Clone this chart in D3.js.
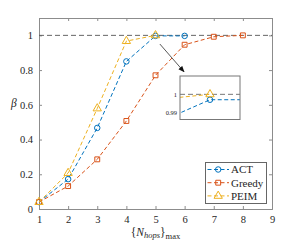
<!DOCTYPE html>
<html><head><meta charset="utf-8">
<script src="https://cdn.jsdelivr.net/npm/d3@7"></script>
<style>body{margin:0;background:#fff}svg{display:block}</style>
</head><body><svg id="c" width="300" height="240"></svg>
<script>
const hops = [1,2,3,4,5,6,7,8,9];
const actX = [1,2,3,4,5,6];
const actY = [0.04,0.172,0.467,0.85,0.997,0.997];
const greedyX = [1,2,3,4,5,6,7,8];
const greedyY = [0.04,0.132,0.286,0.507,0.77,0.946,0.992,1.0];
const peimX = [1,2,3,4,5];
const peimY = [0.04,0.207,0.579,0.967,1.0];
const yTicks = [0,0.2,0.4,0.6,0.8,1];
const yTickLabels = ["0","0.2","0.4","0.6","0.8","1"];
const insetTicks = [0.99,1];
const insetTickLabels = ["0.99","1"];
const seriesNames = ["ACT","Greedy","PEIM"];
const colors = ["#0072BD","#D95319","#EDB120"];
const shapes = [d3.symbolCircle,d3.symbolSquare,d3.symbolTriangle];

const FONT = "'Liberation Serif', 'Times New Roman', 'DejaVu Serif', serif";
const svg = d3.select("#c");
const x = d3.scaleLinear().domain([1,9]).range([39,272]);
const y = d3.scaleLinear().domain([0,1.1]).range([209,18]);
const axisCol = "#8c8c8c";
const series = [
  {name:seriesNames[0], xs:actX, ys:actY},
  {name:seriesNames[1], xs:greedyX, ys:greedyY},
  {name:seriesNames[2], xs:peimX, ys:peimY}
];

const fs = "10.5px";
svg.append("g").attr("transform","translate(0,209)")
  .call(d3.axisBottom(x).tickValues(hops).tickSize(-3).tickPadding(7).tickFormat(d3.format("d")))
  .call(g=>{g.select(".domain").attr("stroke",axisCol);g.selectAll("line").attr("stroke",axisCol);g.selectAll("text").style("font-size",fs);});
svg.append("g").attr("transform","translate(0,18)")
  .call(d3.axisTop(x).tickValues(hops).tickSize(-3).tickFormat(""))
  .call(g=>{g.select(".domain").attr("stroke",axisCol);g.selectAll("line").attr("stroke",axisCol);});
svg.append("g").attr("transform","translate(39,0)")
  .call(d3.axisLeft(y).tickValues(yTicks).tickSize(-3).tickPadding(6).tickFormat((d,i)=>yTickLabels[i]))
  .call(g=>{g.select(".domain").attr("stroke",axisCol);g.selectAll("line").attr("stroke",axisCol);g.selectAll("text").style("font-size",fs);});
svg.append("g").attr("transform","translate(272,0)")
  .call(d3.axisRight(y).tickValues(yTicks).tickSize(-3).tickFormat(""))
  .call(g=>{g.select(".domain").attr("stroke",axisCol);g.selectAll("line").attr("stroke",axisCol);});
svg.selectAll(".domain").attr("stroke-width",1);

svg.append("line").attr("x1",x(1)).attr("x2",x(9)).attr("y1",y(1)).attr("y2",y(1))
  .attr("stroke","#555").attr("stroke-width",0.9).attr("stroke-dasharray","5,3");

function drawSeries(g, xs, ys, si, sx, sy, markers){
  const pts = xs.map((v,i)=>[v,ys[i]]);
  g.append("path").datum(pts)
    .attr("d", d3.line().x(d=>sx(d[0])).y(d=>sy(d[1])))
    .attr("fill","none").attr("stroke",colors[si]).attr("stroke-width",1).attr("stroke-dasharray","4,2.5");
  if(markers){
    g.selectAll(null).data(pts).enter().append("path")
      .attr("transform",d=>`translate(${sx(d[0])},${sy(d[1])})`)
      .attr("d", d3.symbol().type(shapes[si]).size(si===2?30:24))
      .attr("fill","none").attr("stroke",colors[si]).attr("stroke-width",1);
  }
}
const mainG = svg.append("g");
series.forEach((s,i)=>drawSeries(mainG,s.xs,s.ys,i,x,y,true));

const defs = svg.append("defs");
defs.append("marker").attr("id","ah").attr("viewBox","0 0 10 10").attr("refX",9).attr("refY",5)
  .attr("markerWidth",7).attr("markerHeight",7).attr("orient","auto")
  .append("path").attr("d","M0,1 L10,5 L0,9 Z").attr("fill","#111");
svg.append("line").attr("x1",x(5.15)).attr("y1",y(0.95)).attr("x2",x(5.98)).attr("y2",y(0.79))
  .attr("stroke","#444").attr("stroke-width",0.9).attr("marker-end","url(#ah)");

const ix = d3.scaleLinear().domain([4.95,5.05]).range([180,240]);
const iy = d3.scaleLinear().domain([0.986,1.0102]).range([119.5,76]);
defs.append("clipPath").attr("id","ic").append("rect").attr("x",180).attr("y",76).attr("width",60).attr("height",43.5);
svg.append("rect").attr("x",180).attr("y",76).attr("width",60).attr("height",43.5).attr("fill","#fff");
const ig = svg.append("g").attr("clip-path","url(#ic)");
ig.append("line").attr("x1",180).attr("x2",240).attr("y1",iy(1)).attr("y2",iy(1))
  .attr("stroke","#777").attr("stroke-width",1).attr("stroke-dasharray","5,3");
[0,2].forEach(i=>drawSeries(ig,series[i].xs,series[i].ys,i,ix,iy,true));
svg.append("rect").attr("x",180).attr("y",76).attr("width",60).attr("height",43.5)
  .attr("fill","none").attr("stroke","#777").attr("stroke-width",1);
svg.append("g").selectAll("text").data(insetTicks).enter().append("text")
  .attr("x",177).attr("y",d=>iy(d)).attr("dy","0.35em").attr("text-anchor","end")
  .style("font-size","6.5px").text((d,i)=>insetTickLabels[i]);

const lg = svg.append("g");
lg.append("rect").attr("x",205.5).attr("y",162.5).attr("width",61).attr("height",41)
  .attr("fill","#fff").attr("stroke","#666").attr("stroke-width",1);
seriesNames.forEach((n,i)=>{
  const yy = 169.5 + i*13.2;
  lg.append("line").attr("x1",207.5).attr("x2",229).attr("y1",yy).attr("y2",yy)
    .attr("stroke",colors[i]).attr("stroke-width",1).attr("stroke-dasharray","4,2.5");
  lg.append("path").attr("transform",`translate(218.2,${yy})`)
    .attr("d",d3.symbol().type(shapes[i]).size(i===2?30:24))
    .attr("fill","none").attr("stroke",colors[i]).attr("stroke-width",1);
  lg.append("text").attr("x",231).attr("y",yy).attr("dy","0.35em").style("font-size","11px").text(n);
});

svg.append("text").attr("x",11).attr("y",107).style("font-size","11.5px").style("font-style","italic").text("β");
const xl = svg.append("text").attr("x",155.5).attr("y",236).attr("text-anchor","middle").style("font-size","11.5px");
xl.append("tspan").text("{");
xl.append("tspan").style("font-style","italic").text("N");
xl.append("tspan").attr("dy",2).style("font-style","italic").style("font-size","8.5px").text("hops");
xl.append("tspan").attr("dy",-2).text("}");
xl.append("tspan").attr("dy",3).style("font-size","8.5px").text("max");

svg.selectAll("text").style("font-family",FONT).attr("fill","#262626");
</script></body></html>
